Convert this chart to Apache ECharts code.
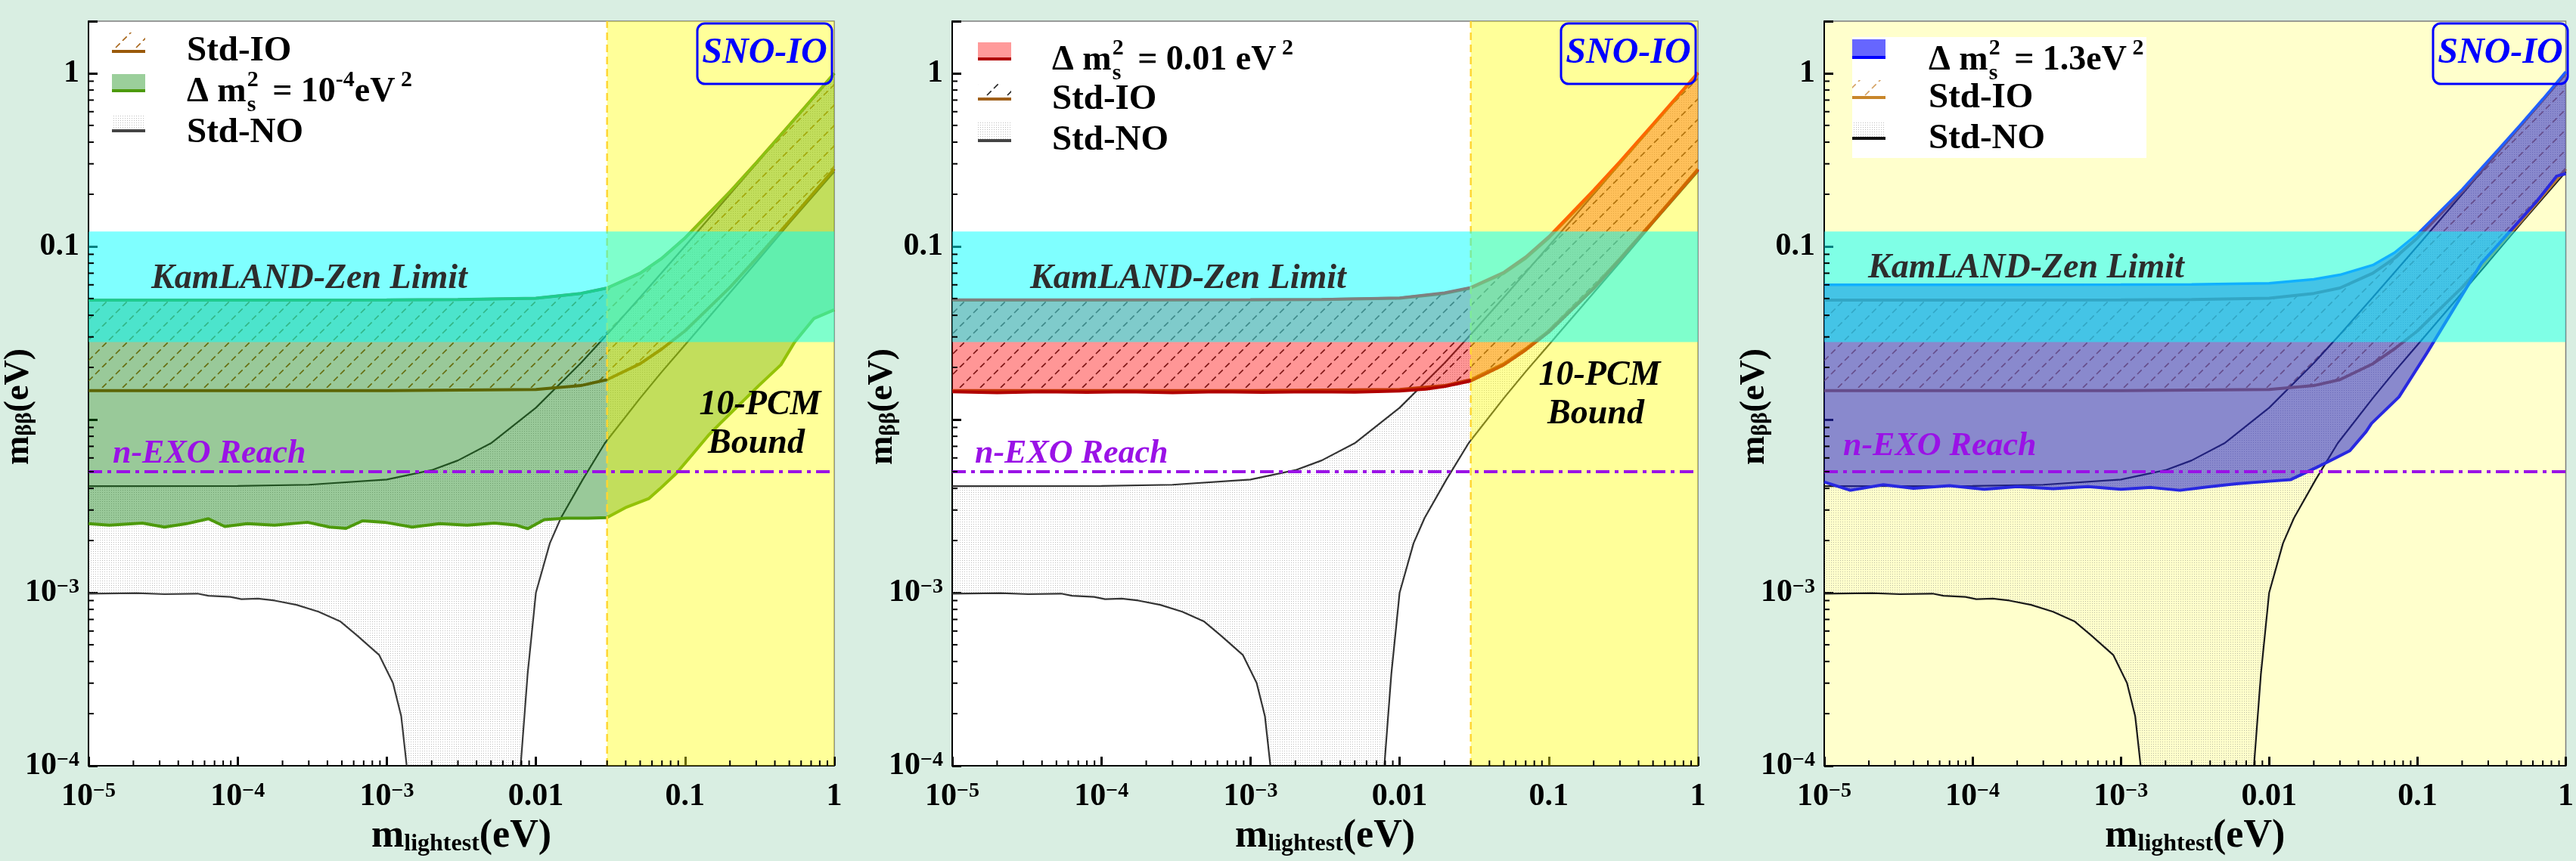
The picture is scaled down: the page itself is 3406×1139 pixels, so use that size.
<!DOCTYPE html>
<html>
<head>
<meta charset="utf-8">
<script src="https://cdn.jsdelivr.net/npm/echarts@6.0.0/dist/echarts.min.js"></script>
<style>
  html, body { margin: 0; padding: 0; background: #d9eee2; }
  #chart { width: 3406px; height: 1139px; }
</style>
</head>
<body>
<div id="chart"></div>
<script>
// ---------------- data (eV) ----------------
const xMajorTicks = [1e-5, 1e-4, 1e-3, 0.01, 0.1, 1];
const yMajorTicks = [1e-4, 1e-3, 0.01, 0.1, 1];
const kamlandBand = [0.028, 0.122];   // KamLAND-Zen limit band
const nexoReach = 0.005;              // n-EXO reach
const pcmBound = 0.03;                // 10-PCM bound on m_lightest

// standard inverted ordering band
const ioUpper = [[1e-5,0.049],[1e-4,0.049],[1e-3,0.0491],[3e-3,0.0493],[0.01,0.0502],[0.02,0.0535],[0.03,0.0575],[0.05,0.070],[0.07,0.0855],[0.1,0.112],[0.2,0.207],[0.3,0.304],[0.5,0.502],[0.7,0.70],[1,1.0]];
const ioLower = [[1e-5,0.0147],[1e-3,0.0147],[0.01,0.0149],[0.02,0.0157],[0.03,0.0170],[0.05,0.0210],[0.07,0.0256],[0.1,0.0325],[0.2,0.058],[0.3,0.085],[0.5,0.140],[0.7,0.196],[1,0.280]];

// standard normal ordering band
const noUpper = [[1e-5,0.00412],[1e-4,0.00413],[3e-4,0.0042],[1e-3,0.0045],[2e-3,0.0051],[3e-3,0.0058],[5e-3,0.0073],[0.01,0.0117],[0.02,0.0212],[0.03,0.031],[0.05,0.0508],[0.1,0.1005],[0.3,0.300],[1,1.0]];
const noLowerLeft = [[1e-5,9.87e-4],[2.11e-5,9.94e-4],[3.23e-5,9.8e-4],[5.38e-5,9.87e-4],[6.37e-5,9.6e-4],[8.95e-5,9.45e-4],[1.06e-4,9.17e-4],[1.37e-4,9.24e-4],[1.77e-4,9.0e-4],[2.48e-4,8.5e-4],[3.49e-4,7.76e-4],[4.9e-4,6.8e-4],[6.32e-4,5.66e-4],[8.88e-4,4.37e-4],[1.1e-3,3.01e-4],[1.25e-3,1.93e-4],[1.36e-3,1e-4]];
const noLowerRight = [[0.0079,1e-4],[0.0088,3.4e-4],[0.01,1e-3],[0.0124,1.93e-3],[0.0147,2.7e-3],[0.0206,4.5e-3],[0.029,7.3e-3],[0.05,0.0133],[0.07,0.0189],[0.1,0.027],[0.2,0.054],[0.3,0.081],[0.5,0.136],[1,0.270]];

// sterile band, Δm²s = 1e-4 eV²
const sterileA_upper = ioUpper;
const sterileA_lower = [[1e-5,0.0025],[1.38e-5,0.00245],[2.3e-5,0.00252],[3.23e-5,0.00239],[4.54e-5,0.0025],[6.37e-5,0.00267],[8.2e-5,0.00241],[1.16e-4,0.0025],[1.77e-4,0.00245],[2.94e-4,0.00255],[4.13e-4,0.00239],[5.33e-4,0.00235],[6.88e-4,0.0026],[9.67e-4,0.00255],[1.48e-3,0.00239],[2.26e-3,0.0025],[3.46e-3,0.00245],[5.28e-3,0.00252],[7.43e-3,0.00245],[8.8e-3,0.00234],[0.01136,0.00264],[0.01595,0.00269],[0.02244,0.00269],[0.0299,0.00271],[0.0406,0.00312],[0.057,0.00349],[0.0676,0.00397],[0.0873,0.00488],[0.1127,0.00633],[0.145,0.00819],[0.172,0.0095],[0.312,0.0157],[0.439,0.0207],[0.543,0.028],[0.73,0.0383],[1,0.043]];

// sterile band, Δm²s = 0.01 eV²
const sterileB_upper = [[1e-5,0.0492],[1e-4,0.0492],[1e-3,0.0493],[3e-3,0.0495],[0.01,0.0505],[0.02,0.054],[0.03,0.058],[0.05,0.071],[0.07,0.087],[0.1,0.114],[0.2,0.212],[0.3,0.31],[0.5,0.51],[0.7,0.71],[1,1.01]];
const sterileB_lower = [[1e-5,0.01445],[2e-5,0.0143],[4e-5,0.01448],[8e-5,0.01435],[1.5e-4,0.01445],[3e-4,0.0143],[6e-4,0.01447],[1.2e-3,0.01435],[2.5e-3,0.01445],[5e-3,0.01438],[0.01,0.0146],[0.015,0.0150],[0.02,0.0155],[0.03,0.0167],[0.05,0.0207],[0.07,0.0252],[0.1,0.0320],[0.2,0.057],[0.3,0.084],[0.5,0.139],[0.7,0.194],[1,0.277]];

// sterile band, Δm²s = 1.3 eV²
const sterileC_upper = [[1e-5,0.0600],[1e-4,0.0600],[1e-3,0.0601],[3e-3,0.0603],[0.01,0.0612],[0.02,0.0645],[0.03,0.0685],[0.05,0.078],[0.07,0.092],[0.1,0.118],[0.2,0.213],[0.35,0.362],[0.5,0.51],[0.7,0.71],[1,1.02]];
const sterileC_lower = [[1e-5,0.00436],[1.5e-5,0.0039],[2.5e-5,0.0042],[4e-5,0.0040],[7e-5,0.00415],[1.2e-4,0.00395],[2e-4,0.0041],[3.5e-4,0.00398],[6e-4,0.0041],[1e-3,0.00395],[1.6e-3,0.00405],[2.5e-3,0.0039],[4e-3,0.0041],[6e-3,0.00425],[0.01,0.0044],[0.014,0.0045],[0.021,0.0053],[0.027,0.0059],[0.035,0.0066],[0.045,0.0085],[0.049,0.0095],[0.075,0.0135],[0.115,0.024],[0.27,0.08],[0.63,0.18],[0.87,0.255],[1,0.263]];

// ---------------- layout / style ----------------
const FONT = '"Liberation Serif", "Times New Roman", serif';
const TOP = 28, GW = 986, GH = 985;
const lefts = [117, 1259, 2412];

const panels = [
  { bg: '#ffffff', pcm: true,  band: sterileA_lower, bandUp: sterileA_upper,
    fill: 'rgba(0,120,0,0.40)', edgeLow: '#4d9a0c', edgeUp: '#3c9a20',
    hatch: '#a8661a', ioLine: '#9a5a0a', noLine: '#3a3a3a' },
  { bg: '#ffffff', pcm: true,  band: sterileB_lower, bandUp: sterileB_upper,
    fill: 'rgba(255,0,0,0.41)', edgeLow: '#b00000', edgeUp: '#ff0000',
    hatch: '#222222', ioLine: '#9a5a0a', noLine: '#333333' },
  { bg: '#ffffcc', pcm: false, band: sterileC_lower, bandUp: sterileC_upper,
    fill: 'rgba(40,40,205,0.55)', edgeLow: '#2828e0', edgeUp: '#2060ff',
    hatch: '#b07a3a', ioLine: '#b0783a', noLine: '#1a1a1a' }
];

// ---------------- fill patterns ----------------
function hatchPattern(color) {
  const c = document.createElement('canvas');
  c.width = 27; c.height = 27;
  const g = c.getContext('2d');
  g.strokeStyle = color; g.lineWidth = 1.6;
  g.setLineDash([8, 4.73]);
  for (const off of [-27, 0, 27]) {
    g.beginPath(); g.moveTo(off, 27); g.lineTo(off + 27, 0); g.stroke();
  }
  return { image: c, repeat: 'repeat' };
}
function dotPattern() {
  const c = document.createElement('canvas');
  c.width = 3; c.height = 3;
  const g = c.getContext('2d');
  g.fillStyle = 'rgba(110,110,110,0.45)';
  g.fillRect(0, 0, 1, 1);
  return { image: c, repeat: 'repeat' };
}
const dots = dotPattern();

// ---------------- series helpers ----------------
function clipOf(params) {
  const cs = params.coordSys;
  return { type: 'rect', shape: { x: cs.x, y: cs.y, width: cs.width, height: cs.height } };
}
function bandSeries(g, outline, style, z) {
  return {
    type: 'custom', xAxisIndex: g, yAxisIndex: g, z, silent: true,
    data: [[1e-3, 1e-3]],
    renderItem(params, api) {
      const pts = outline.map(p => api.coord(p));
      return { type: 'polygon', shape: { points: pts }, style, clipPath: clipOf(params) };
    }
  };
}
function lineSeries(g, pts, color, width, z, dash) {
  return {
    type: 'line', xAxisIndex: g, yAxisIndex: g, data: pts, z, silent: true,
    showSymbol: false, symbol: 'none', smooth: false,
    lineStyle: { color, width, type: dash || 'solid' }
  };
}
function rectSeries(g, x0, x1, y0, y1, style, z) {
  return {
    type: 'custom', xAxisIndex: g, yAxisIndex: g, z, silent: true,
    data: [[x0, y0]],
    renderItem(params, api) {
      const a = api.coord([x0, y1]), b = api.coord([x1, y0]);
      return { type: 'rect', shape: { x: a[0], y: a[1], width: b[0] - a[0], height: b[1] - a[1] },
               style, clipPath: clipOf(params) };
    }
  };
}
function minorTickSeries(g) {
  return {
    type: 'custom', xAxisIndex: g, yAxisIndex: g, z: 20, silent: true,
    data: [[1e-3, 1e-3]],
    renderItem(params, api) {
      const cs = params.coordSys, children = [];
      for (let e = -5; e < 0; e++) for (let k = 2; k <= 9; k++) {
        const x = api.coord([k * Math.pow(10, e), 1e-4])[0];
        children.push({ type: 'line', shape: { x1: x, y1: cs.y + cs.height, x2: x, y2: cs.y + cs.height - 7 },
                        style: { stroke: '#000', lineWidth: 2 } });
      }
      for (let e = -4; e < 0; e++) for (let k = 2; k <= 9; k++) {
        const y = api.coord([1e-5, k * Math.pow(10, e)])[1];
        children.push({ type: 'line', shape: { x1: cs.x, y1: y, x2: cs.x + 7, y2: y },
                        style: { stroke: '#000', lineWidth: 2 } });
      }
      return { type: 'group', children };
    }
  };
}

// ---------------- axes ----------------
function expOf(v) { return Math.round(Math.log10(v)); }
const richTick = {
  b: { fontFamily: FONT, fontWeight: 'bold', fontSize: 42, color: '#000' },
  p: { fontFamily: FONT, fontWeight: 'bold', fontSize: 28, color: '#000', verticalAlign: 'top' }
};
function xLabel(v) {
  const e = expOf(v);
  if (Math.abs(Math.log10(v) - e) > 1e-6) return '';
  if (e <= -3) return '{b|10}{p|−' + (-e) + '}';
  if (e === -2) return '{b|0.01}';
  if (e === -1) return '{b|0.1}';
  return '{b|1}';
}
function yLabel(v) {
  const e = expOf(v);
  if (Math.abs(Math.log10(v) - e) > 1e-6) return '';
  if (e <= -3) return '{b|10}{p|−' + (-e) + '}';
  if (e === -2) return '';
  if (e === -1) return '{b|0.1}';
  return '{b|1}';
}

const grids = [], xAxes = [], yAxes = [], series = [];
lefts.forEach((left, i) => {
  const P = panels[i];
  grids.push({ left, top: TOP, width: GW, height: GH, show: true,
               backgroundColor: P.bg, borderColor: '#7d7d7d', borderWidth: 1.5 });
  xAxes.push({
    type: 'log', logBase: 10, gridIndex: i, min: 1e-5, max: 1,
    name: '{m|m}{s|lightest}{m|(eV)}', nameLocation: 'middle', nameGap: 68,
    nameTextStyle: { rich: {
      m: { fontFamily: FONT, fontWeight: 'bold', fontSize: 52, color: '#000' },
      s: { fontFamily: FONT, fontWeight: 'bold', fontSize: 32, color: '#000', verticalAlign: 'bottom' } } },
    axisLine: { show: true, onZero: false, lineStyle: { color: '#000', width: 2 } },
    axisTick: { show: true, inside: true, length: 12, lineStyle: { color: '#000', width: 3 } },
    axisLabel: { margin: 20, formatter: xLabel, rich: richTick },
    splitLine: { show: false }
  });
  yAxes.push({
    type: 'log', logBase: 10, gridIndex: i, min: 1e-4, max: 2,
    axisLine: { show: true, onZero: false, lineStyle: { color: '#000', width: 2 } },
    axisTick: { show: true, inside: true, length: 12, lineStyle: { color: '#000', width: 3 } },
    axisLabel: { margin: 12, formatter: yLabel, rich: richTick },
    splitLine: { show: false }
  });

  // Std-NO band (dotted) and its edges
  const noOutline = noUpper.concat(noLowerRight.slice().reverse(), noLowerLeft.slice().reverse());
  series.push(bandSeries(i, noOutline, { fill: dots, stroke: 'none' }, 2));
  // Std-IO band (hatched)
  const ioOutline = ioUpper.concat(ioLower.slice().reverse());
  series.push(bandSeries(i, ioOutline, { fill: hatchPattern(P.hatch), stroke: 'none' }, 3));
  series.push(lineSeries(i, noUpper, P.noLine, 2.2, 4));
  series.push(lineSeries(i, noLowerLeft, P.noLine, 2.2, 4));
  series.push(lineSeries(i, noLowerRight, P.noLine, 2.2, 4));
  series.push(lineSeries(i, ioUpper, P.ioLine, 4, 4));
  series.push(lineSeries(i, ioLower, P.ioLine, 4, 4));
  // sterile band
  const stOutline = P.bandUp.concat(P.band.slice().reverse());
  series.push(bandSeries(i, stOutline, { fill: P.fill, stroke: 'none' }, 5));
  series.push(lineSeries(i, P.bandUp, P.edgeUp, 3.5, 6));
  series.push(lineSeries(i, P.band, P.edgeLow, 4, 6));
  // 10-PCM bound region
  if (P.pcm) {
    series.push(rectSeries(i, pcmBound, 1, 1e-4, 2, { fill: 'rgba(255,255,0,0.40)' }, 7));
    series.push(lineSeries(i, [[pcmBound, 1e-4], [pcmBound, 2]], '#ffd633', 2.5, 7, [10, 6]));
  }
  // KamLAND-Zen limit band
  series.push(rectSeries(i, 1e-5, 1, kamlandBand[0], kamlandBand[1], { fill: 'rgba(0,255,255,0.5)' }, 8));
  // n-EXO reach
  series.push(lineSeries(i, [[1e-5, nexoReach], [1, nexoReach]], '#9a12e6', 4, 9, [18, 7, 5, 7]));
  series.push(minorTickSeries(i));
});

// ---------------- annotations & legends ----------------
const mctx = document.createElement('canvas').getContext('2d');
function tw(t, size, italic) {
  mctx.font = (italic ? 'italic ' : '') + 'bold ' + size + 'px ' + FONT;
  return mctx.measureText(t).width;
}
function txt(x, y, t, size, opts) {
  opts = opts || {};
  return { type: 'text', x, y, z: 100, silent: true,
           style: { text: t, font: (opts.italic ? 'italic ' : '') + 'bold ' + size + 'px ' + FONT,
                    fill: opts.color || '#000', align: opts.align || 'left', verticalAlign: 'middle' } };
}
// "Δ m²s = ..." with stacked super/subscript
function deltaLabel(x, yc, parts) {
  const els = [];
  let cx = x;
  els.push(txt(cx, yc, 'Δ m', 46)); cx += tw('Δ m', 46);
  els.push(txt(cx + 1, yc - 16, '2', 30)); els.push(txt(cx + 1, yc + 17, 's', 30));
  cx += tw('2', 30) + 8;
  parts.forEach(p => {
    if (p.sup) { els.push(txt(cx, yc - 16, p.sup, 30)); cx += tw(p.sup, 30); }
    else { els.push(txt(cx, yc, p.t, 46)); cx += tw(p.t, 46); }
  });
  return els;
}
function iconFill(x, y0, y1, fill, lineColor, lineY) {
  return [
    { type: 'rect', z: 100, silent: true, shape: { x, y: y0, width: 44, height: y1 - y0 }, style: { fill } },
    { type: 'rect', z: 101, silent: true, shape: { x, y: lineY - 2, width: 44, height: 4 }, style: { fill: lineColor } }
  ];
}

const graphics = [];
const legendRows = [
  { icons: [['hatch', 43, 68, panels[0].hatch, '#9a5a0a'], ['fill', 98, 120, '#9bcf9b', '#4d9a0c'], ['dots', 151, 172, null, '#444']],
    rows: [68, 122, 176], order: ['io', 'delta', 'no'], delta: [{ t: ' = 10' }, { sup: '-4' }, { t: 'eV' }, { sup: ' 2' }],
    iconX: 31, textX: 130 },
  { icons: [['fill', 56, 78, '#ff9a9a', '#b00000'], ['hatch', 108, 131, '#222', '#a0601a'], ['dots', 162, 185, null, '#444']],
    rows: [80, 132, 186], order: ['delta', 'io', 'no'], delta: [{ t: ' = 0.01 eV' }, { sup: ' 2' }],
    iconX: 34, textX: 132 },
  { icons: [['fill', 52, 76, '#6666ff', '#0000ff'], ['hatch', 106, 129, '#d4a060', '#c8862a'], ['dots', 160, 182, null, '#111']],
    rows: [80, 130, 184], order: ['delta', 'io', 'no'], delta: [{ t: ' = 1.3eV' }, { sup: ' 2' }],
    iconX: 37, textX: 138 }
];

lefts.forEach((left, i) => {
  const L = legendRows[i];
  if (i === 2) {
    graphics.push({ type: 'rect', z: 99, silent: true, shape: { x: left + 37, y: 49, width: 389, height: 160 }, style: { fill: '#ffffff' } });
  }
  const ix = left + L.iconX;
  L.icons.forEach(ic => {
    const [kind, y0, y1, col, lineCol] = ic;
    if (kind === 'fill') graphics.push(...iconFill(ix, y0, y1, col, lineCol, y1));
    else if (kind === 'hatch') graphics.push(...iconFill(ix, y0, y1, hatchPattern(col), lineCol, y1));
    else graphics.push(...iconFill(ix, y0, y1, dots, lineCol, y1 + 1));
  });
  L.order.forEach((k, r) => {
    const y = L.rows[r], x = left + L.textX;
    if (k === 'io') graphics.push(txt(x, y, 'Std-IO', 47));
    else if (k === 'no') graphics.push(txt(x, y, 'Std-NO', 47));
    else graphics.push(...deltaLabel(x, y, L.delta));
  });

  // y-axis title
  graphics.push({ type: 'text', x: left - 92, y: 538, rotation: Math.PI / 2, z: 100, silent: true,
    style: { text: '{m|m}{s|ββ}{m|(eV)}', align: 'center', verticalAlign: 'middle',
      rich: { m: { font: 'bold 46px ' + FONT, fill: '#000' },
              s: { font: 'bold 30px ' + FONT, fill: '#000', verticalAlign: 'bottom' } } } });

  // SNO-IO box
  graphics.push({ type: 'rect', z: 100, silent: true, shape: { x: left + 805, y: 31, width: 178, height: 80, r: 10 },
                  style: { fill: 'none', stroke: '#0000ff', lineWidth: 3 } });
  graphics.push(txt(left + 894, 71, 'SNO-IO', 48, { italic: true, color: '#0000ff', align: 'center' }));

  // band labels
  const kY = i === 2 ? 355 : 369;
  const kX = [200, 1362, 2470][i];
  graphics.push(txt(kX, kY, 'KamLAND-Zen Limit', 46, { italic: true, color: '#2d2d2d' }));
  const nX = [149, 1289, 2437][i];
  graphics.push(txt(nX, i === 2 ? 591 : 601, 'n-EXO Reach', 44, { italic: true, color: '#9a12e6' }));
  if (panels[i].pcm) {
    const cx = i === 0 ? 1005 : 2115, y1 = i === 0 ? 536 : 497;
    graphics.push(txt(cx, y1, '10-PCM', 46, { italic: true, align: 'center' }));
    graphics.push(txt(cx - 5, y1 + 51, 'Bound', 46, { italic: true, align: 'center' }));
  }
});

const chart = echarts.init(document.getElementById('chart'), null, { renderer: 'canvas' });
chart.setOption({
  animation: false,
  backgroundColor: '#d9eee2',
  grid: grids, xAxis: xAxes, yAxis: yAxes, series,
  graphic: graphics
});
</script>
</body>
</html>
